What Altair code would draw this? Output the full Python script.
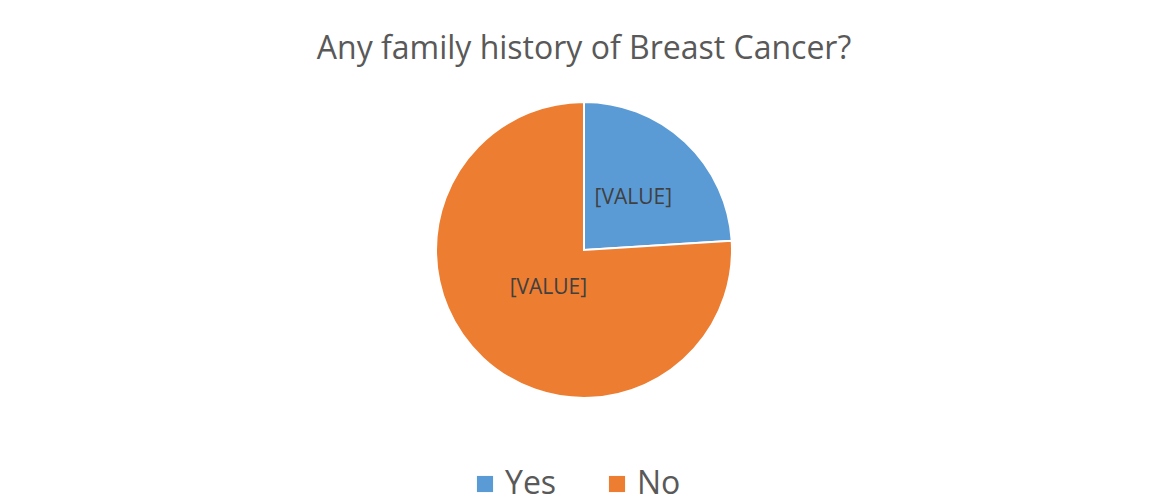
import altair as alt
import pandas as pd

categories = ["Yes", "No"]
values = [24, 76]
labels = ["[VALUE]", "[VALUE]"]
colors = ["#5B9BD5", "#ED7D31"]

df = pd.DataFrame({"category": categories, "value": values, "label": labels})

base = alt.Chart(df).transform_calculate(
    idx="indexof(['Yes','No'], datum.category)",
)

arc = base.mark_arc(outerRadius=148, stroke="white", strokeWidth=2).encode(
    theta=alt.Theta("value:Q", stack=True),
    order=alt.Order("idx:Q", sort="ascending"),
    color=alt.Color(
        "category:N",
        scale=alt.Scale(domain=categories, range=colors),
        sort=categories,
        legend=alt.Legend(
            title=None,
            orient="none",
            legendX=451,
            legendY=380,
            direction="horizontal",
            symbolType="square",
            symbolSize=260,
            symbolStrokeWidth=0,
            labelFontSize=32,
            labelFont="Open Sans",
            labelColor="#595959",
            columnPadding=44,
        ),
    ),
)

text = (
    base.transform_window(
        cum="sum(value)", sort=[alt.SortField("idx")], frame=[None, 0]
    )
    .transform_joinaggregate(total="sum(value)")
    .transform_calculate(
        mid="(datum.cum - datum.value / 2) / datum.total",
        lr="datum.category == 'Yes' ? 72 : 52",
    )
    .mark_text(font="Open Sans", fontSize=21, color="#404040")
    .encode(
        theta=alt.Theta("mid:Q", scale=alt.Scale(domain=[0, 1])),
        radius=alt.Radius("lr:Q", scale=None),
        text="label:N",
    )
)

chart = (
    alt.layer(arc, text)
    .resolve_scale(theta="independent")
    .properties(
        width=1132,
        height=324,
        autosize=alt.AutoSizeParams(type="none"),
        padding={"left": 10, "right": 0, "top": 80, "bottom": 84},
        title=alt.TitleParams(
            "Any family history of Breast Cancer?",
            font="Open Sans",
            fontSize=32,
            fontWeight="normal",
            color="#595959",
            anchor="middle",
            offset=22,
        ),
    )
    .configure_view(stroke=None)
)

chart.save("out.html", embed_options={"renderer": "svg", "actions": False})
